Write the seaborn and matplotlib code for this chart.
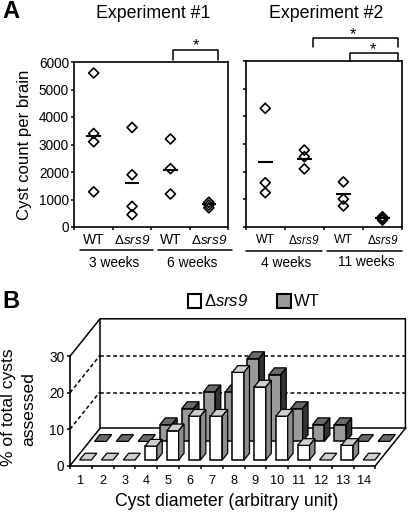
import numpy as np
import pandas as pd
import seaborn as sns
import matplotlib.pyplot as plt
from matplotlib.lines import Line2D
from matplotlib.patches import Polygon, Rectangle

# panel A values
exp1_pos = [0.5, 0.5, 0.5, 0.5, 1.5, 1.5, 1.5, 1.5, 2.5, 2.5, 2.5, 3.5, 3.5, 3.5]
exp1_counts = [5600, 3400, 3100, 1280, 3620, 1900, 750, 450, 3200, 2120, 1200, 900, 800, 700]
exp1_means = [3320, 1600, 2070, 840]
exp2_pos = [0.5, 0.5, 0.5, 1.5, 1.5, 1.5, 2.5, 2.5, 2.5, 3.5, 3.5, 3.5]
exp2_counts = [4290, 1600, 1240, 2780, 2540, 2100, 1630, 1010, 760, 370, 310, 250]
exp2_means = [2340, 2470, 1200, 310]
exp1_weeks = ['3 weeks', '6 weeks']
exp2_weeks = ['4 weeks', '11 weeks']
mut_label = 'Δ$\\mathit{srs9}$'

# panel B values
diameters = list(range(1, 15))
pct_mut = [0, 0, 0, 3.8, 8, 12, 12, 24, 20, 12, 4, 0, 4, 0]
pct_wt = [0, 0, 0, 4.6, 9, 13.6, 13.6, 22.7, 18.3, 9, 4.6, 4.6, 0, 0]

W, H = 410, 512
sns.set_theme(style='white')
plt.rcParams['font.family'] = ['Liberation Sans', 'DejaVu Sans']
plt.rcParams['mathtext.fontset'] = 'custom'
plt.rcParams['mathtext.it'] = 'Liberation Sans:italic'
# digits in mathit fall back to rm, so rm is italic too
plt.rcParams['mathtext.rm'] = 'Liberation Sans:italic'

fig = plt.figure(figsize=(W / 100, H / 100), dpi=100)


def make_axes(x0, y0, x1, y1):
    return fig.add_axes([x0 / W, 1 - y1 / H, (x1 - x0) / W, (y1 - y0) / H])


def px_line(xs, ys, lw=1.1):
    fig.add_artist(Line2D([x / W for x in xs], [1 - y / H for y in ys], color='black', lw=lw))


def px_text(x, y, s, **kw):
    fig.text(x / W, 1 - y / H, s, ha=kw.pop('ha', 'center'), va=kw.pop('va', 'center'), color='black', **kw)


def scatter_panel(ax, pos, counts, means):
    df = pd.DataFrame({'pos': pos, 'count': counts})
    sns.scatterplot(data=df, x='pos', y='count', ax=ax, marker='D', s=26,
                    facecolor='none', edgecolor='black', linewidth=1.2, clip_on=False, zorder=3)
    for i, m in enumerate(means):
        ax.hlines(m, i + 0.5 - 0.19, i + 0.5 + 0.19, color='black', lw=1.5, zorder=4)
    ax.set_xlim(0, 4)
    ax.set_ylim(0, 6000)
    ax.set_xticks(range(5))
    ax.set_yticks(range(0, 7000, 1000))
    ax.set_xticklabels([])
    ax.set_xlabel('')
    ax.set_ylabel('')
    ax.tick_params(length=2.5, width=1.1, color='black', bottom=True, left=True, pad=1.5, labelsize=9.8, labelcolor='black')
    for s in ax.spines.values():
        s.set_color('black')
        s.set_linewidth(1.2)


ax1 = make_axes(74.5, 62, 228, 227)
scatter_panel(ax1, exp1_pos, exp1_counts, exp1_means)
ax1.set_ylabel('Cyst count per brain', fontsize=12.1, color='black', labelpad=5)

ax2 = make_axes(245.7, 61, 402, 227)
scatter_panel(ax2, exp2_pos, exp2_counts, exp2_means)
ax2.set_yticklabels([])

# labels under panel A
for ax, size in [(ax1, 10), (ax2, 8.8)]:
    for i, lab in enumerate(['WT', mut_label, 'WT', mut_label]):
        ax.text(i + 0.5, -0.08, lab, transform=ax.get_xaxis_transform(), ha='center', va='center',
                fontsize=size if i % 2 == 0 else size - 0.3, color='black')
px_line([80, 152.7], [249.5, 249.5])
px_line([158, 231.7], [249.5, 249.5])
px_line([245.7, 321.7], [250.5, 250.5])
px_line([327, 402], [250.5, 250.5])
px_text(114.5, 263, exp1_weeks[0], fontsize=9.9)
px_text(192.5, 263, exp1_weeks[1], fontsize=9.9)
px_text(286, 263, exp2_weeks[0], fontsize=9.9)
px_text(366, 262, exp2_weeks[1], fontsize=9.9)
px_text(153, 13, 'Experiment #1', fontsize=12.8)
px_text(326, 13, 'Experiment #2', fontsize=12.8)
px_text(2, 11, 'A', fontsize=17, fontweight='bold', ha='left')
px_text(2, 302, 'B', fontsize=17, fontweight='bold', ha='left')

# significance brackets
px_line([173, 173, 217.7, 217.7], [60, 50, 50, 60])
px_line([313.5, 313.5, 398, 398], [46.5, 37.7, 37.7, 46.5])
px_line([350, 350, 398, 398], [61, 52.5, 52.5, 61])
px_text(196, 46, '*', fontsize=12)
px_text(353, 35, '*', fontsize=12)
px_text(373, 50, '*', fontsize=12)

# panel B: oblique projection, depth 0-1 maps to these data offsets
DX, DY = 1.376, 10.25
ax3 = make_axes(70, 318.8, 405.4, 465.7)
ax3.set_facecolor('none')


def bars_3d(values, depth, c_front, c_top, c_side, z):
    width, thick = 0.54, 0.18
    xs = np.array(diameters) - 0.5 + depth * DX
    base = depth * DY
    nz = [i for i, v in enumerate(values) if v > 0]
    sns.barplot(x=xs[nz], y=[values[i] for i in nz], bottom=base, native_scale=True, width=width,
                color=c_front, saturation=1, edgecolor='black', linewidth=1.1, ax=ax3, zorder=z, errorbar=None)
    for i, v in enumerate(values):
        l, r = xs[i] - width / 2, xs[i] + width / 2
        top = base + v
        dx, dy = thick * DX, thick * DY
        ax3.add_patch(Polygon([(l, top), (r, top), (r + dx, top + dy), (l + dx, top + dy)], closed=True,
                              fc=c_top, ec='black', lw=0.9, zorder=z, clip_on=False))
        if v > 0:
            ax3.add_patch(Polygon([(r, base), (r + dx, base + dy), (r + dx, top + dy), (r, top)], closed=True,
                                  fc=c_side, ec='black', lw=0.9, zorder=z, clip_on=False))


bars_3d(pct_wt, 0.65, '#9a9a9a', '#6a6a6a', '#333333', 3)
bars_3d(pct_mut, 0.153, 'white', '#cfcfcf', '#8c8c8c', 5)

ax3.set_xlim(0, 14 + DX)
ax3.set_ylim(0, 30 + DY)
# walls and floor
ax3.plot([0, DX, 14 + DX, 14 + DX], [30, 30 + DY, 30 + DY, DY], color='black', lw=1.1, clip_on=False, zorder=1)
ax3.plot([DX, DX, 14 + DX + 0.05], [30 + DY, DY, DY], color='black', lw=1.1, clip_on=False, zorder=1)
ax3.plot([0, DX], [0, DY], color='black', lw=1.1, clip_on=False, zorder=1)
ax3.plot([14, 14 + DX], [0, DY], color='black', lw=1.1, clip_on=False, zorder=6)
for lev in [10, 20]:
    ax3.plot([0, DX], [lev, lev + DY], color='black', lw=1.1, ls=(0, (2.5, 1.8)), clip_on=False, zorder=1)
    ax3.plot([DX, 14 + DX], [lev + DY - 0.25, lev + DY - 0.25], color='black', lw=1.1, ls=(0, (2.5, 1.8)), clip_on=False, zorder=1)

sns.despine(ax=ax3, top=True, right=True)
ax3.spines['left'].set_bounds(0, 30)
ax3.spines['bottom'].set_bounds(0, 14)
for side in ['left', 'bottom']:
    ax3.spines[side].set_color('black')
    ax3.spines[side].set_linewidth(1.2)
ax3.set_yticks([0, 10, 20, 30])
ax3.set_xticks(range(15))
ax3.set_xticklabels([])
ax3.set_xticks(np.array(diameters) - 0.5, labels=[str(d) for d in diameters], minor=True)
ax3.tick_params(axis='x', which='major', length=2.5, width=1.1, color='black', bottom=True)
ax3.tick_params(axis='x', which='minor', length=0, pad=7, labelsize=9.2, labelcolor='black')
ax3.tick_params(axis='y', length=2.5, width=1.1, color='black', left=True, pad=1.5, labelsize=9.8, labelcolor='black')
ax3.set_xlabel('')
ax3.set_ylabel('')
px_text(227, 502, 'Cyst diameter (arbitrary unit)', fontsize=12.7)
px_text(8.5, 407, '% of total cysts', fontsize=12.6, rotation=90)
px_text(29, 409, 'assessed', fontsize=12.6, rotation=90)

# legend
fig.add_artist(Rectangle((188 / W, 1 - 308 / H), 13.5 / W, 14 / H, transform=fig.transFigure, fc='white', ec='black', lw=1.5))
fig.add_artist(Rectangle((277 / W, 1 - 308 / H), 13.5 / W, 14 / H, transform=fig.transFigure, fc='#9a9a9a', ec='black', lw=1.5))
px_text(204, 301, mut_label, fontsize=12, ha='left')
px_text(293.5, 301, 'WT', fontsize=12, ha='left')

fig.savefig('out.png', dpi=100)
